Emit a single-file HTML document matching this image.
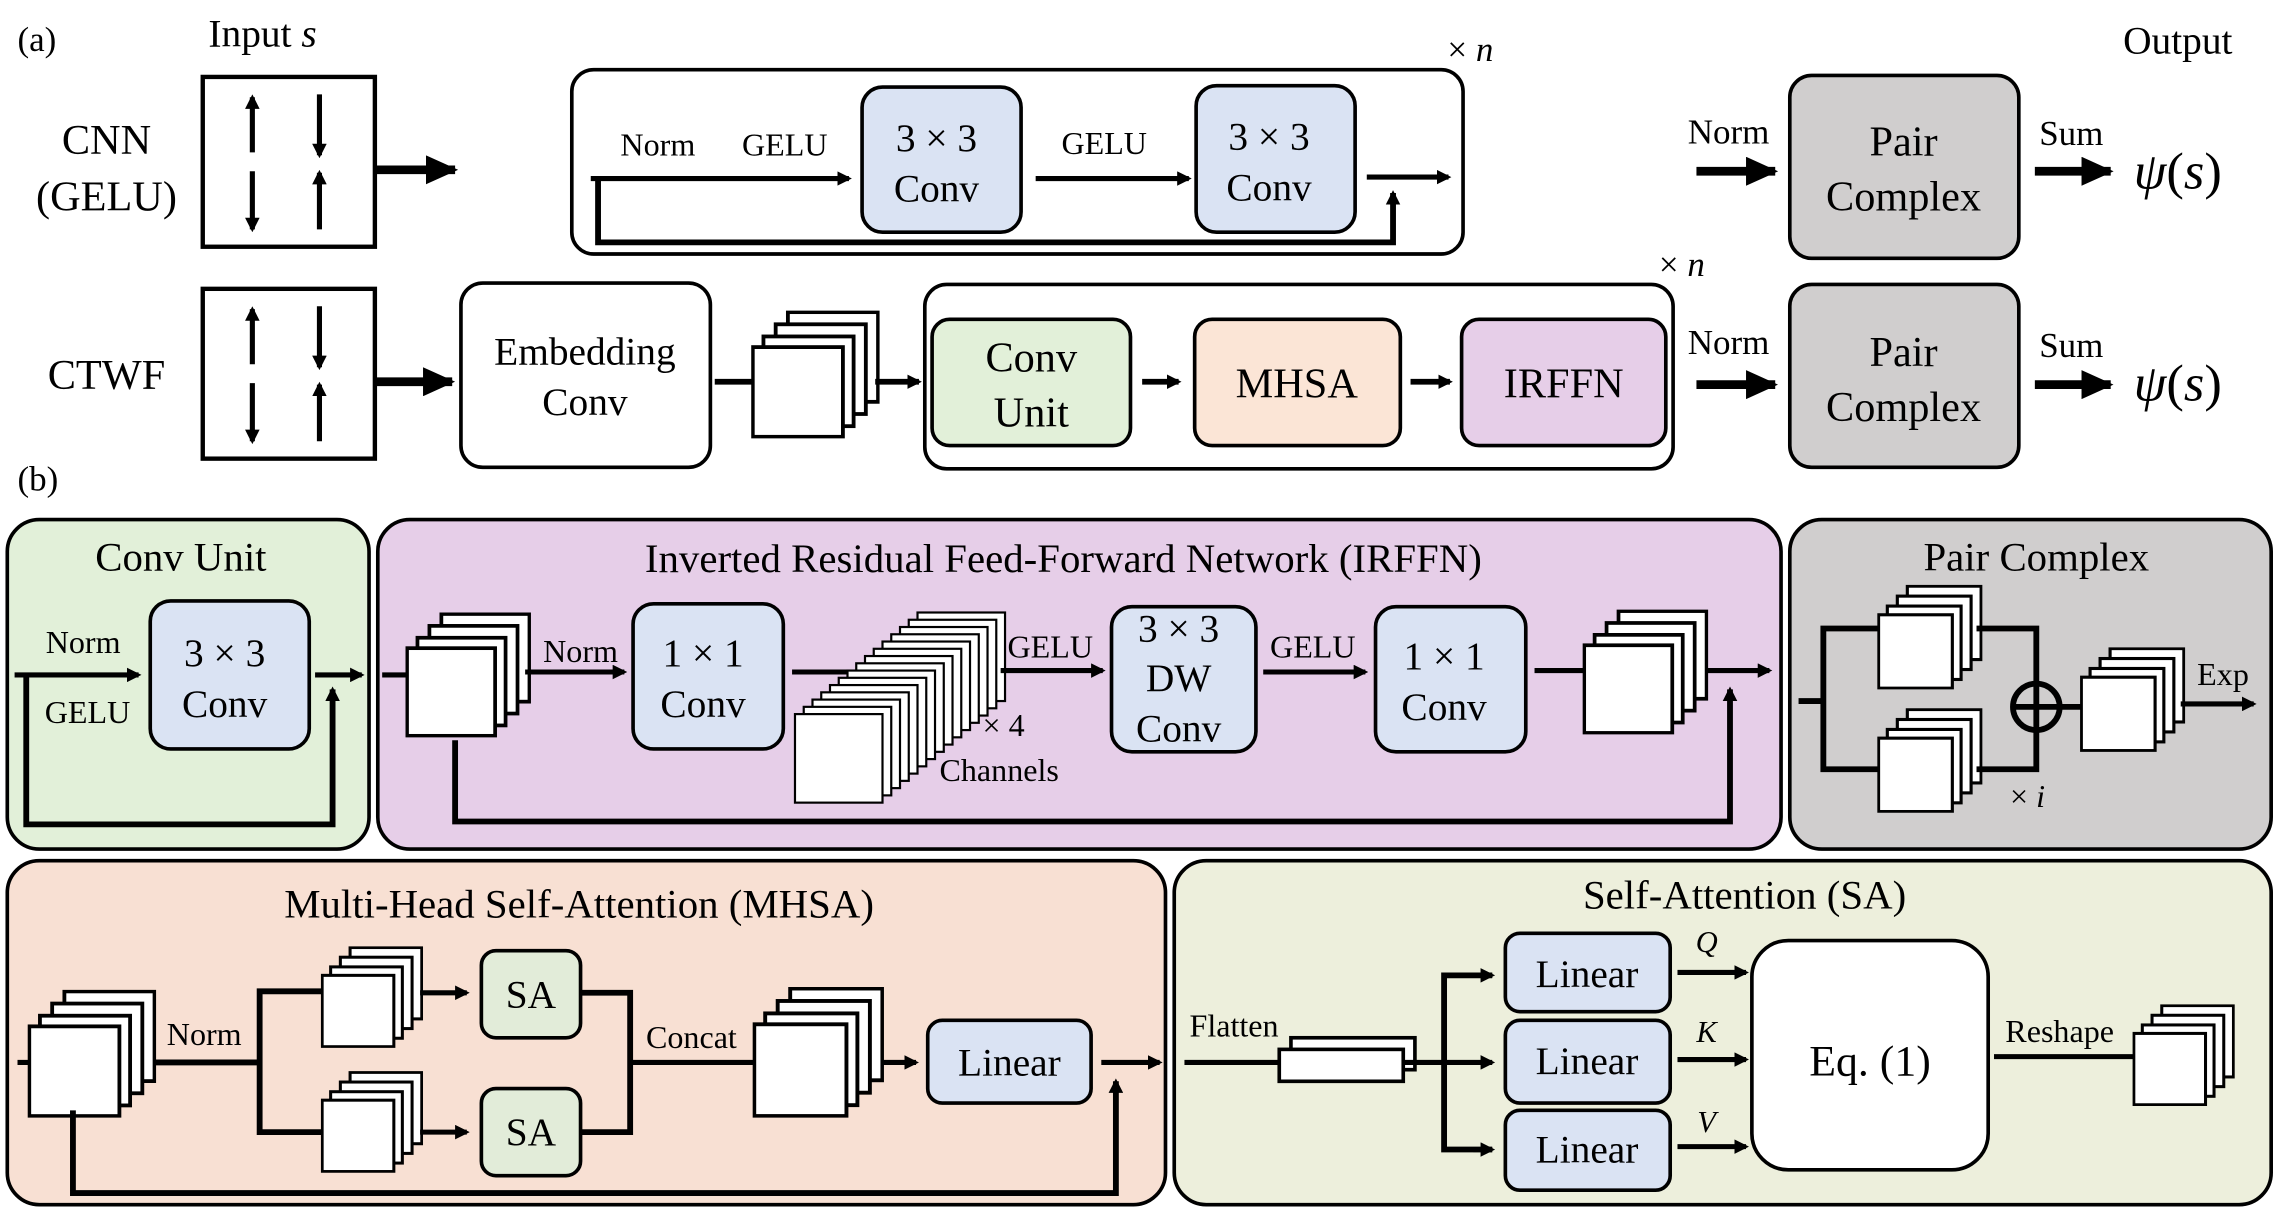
<!DOCTYPE html>
<html><head><meta charset="utf-8"><style>
html,body{margin:0;padding:0;background:#fff}
svg{display:block}
text{font-family:"Liberation Serif","Times New Roman",serif;fill:#000}
</style></head><body>
<svg width="2277" height="1225" viewBox="0 0 1561 844" preserveAspectRatio="none" xmlns="http://www.w3.org/2000/svg">
<defs>
<marker id="a" markerWidth="10" markerHeight="10" refX="8" refY="5" orient="auto" markerUnits="userSpaceOnUse"><path d="M0,0 L10,5 L0,10 z" fill="#000"/></marker>
<marker id="A" markerWidth="22" markerHeight="20" refX="20" refY="10" orient="auto" markerUnits="userSpaceOnUse"><path d="M0,0 L22,10 L0,20 z" fill="#000"/></marker>
<symbol id="stk" viewBox="0 0 84 84">
<rect x="24" y="1" width="59" height="59" fill="#fff" stroke="#000" stroke-width="2.5"/>
<rect x="16" y="9" width="59" height="59" fill="#fff" stroke="#000" stroke-width="2.5"/>
<rect x="8" y="17" width="59" height="59" fill="#fff" stroke="#000" stroke-width="2.5"/>
<rect x="1" y="24" width="59" height="59" fill="#fff" stroke="#000" stroke-width="2.5"/>
</symbol>
<g id="spins">
<rect x="0" y="0" width="118" height="117" fill="#fff" stroke="#000" stroke-width="3"/>
<line x1="34" y1="52" x2="34" y2="14" stroke="#000" stroke-width="3.5" marker-end="url(#a)"/>
<line x1="80" y1="12" x2="80" y2="54" stroke="#000" stroke-width="3.5" marker-end="url(#a)"/>
<line x1="34" y1="65" x2="34" y2="105" stroke="#000" stroke-width="3.5" marker-end="url(#a)"/>
<line x1="80" y1="105" x2="80" y2="66" stroke="#000" stroke-width="3.5" marker-end="url(#a)"/>
</g>
</defs>
<g stroke="#000" fill="none">
<use href="#spins" x="139" y="53"/>
<use href="#spins" x="139" y="199"/>
<line x1="257" y1="117" x2="312" y2="117" stroke-width="6" marker-end="url(#A)"/>
<rect x="392" y="48" width="611" height="127" rx="15" fill="#fff" stroke-width="2.5"/>
<line x1="405" y1="123" x2="582" y2="123" stroke-width="3.5" marker-end="url(#a)"/>
<rect x="591" y="60" width="109" height="100" rx="14" fill="#dae3f3" stroke-width="2.5"/>
<line x1="710" y1="123" x2="815" y2="123" stroke-width="3.5" marker-end="url(#a)"/>
<rect x="820" y="59" width="109" height="101" rx="14" fill="#dae3f3" stroke-width="2.5"/>
<line x1="937" y1="122" x2="993" y2="122" stroke-width="3.5" marker-end="url(#a)"/>
<polyline points="410,123 410,167 955,167 955,133" stroke-width="4" marker-end="url(#a)"/>
<line x1="1163" y1="118" x2="1217" y2="118" stroke-width="6" marker-end="url(#A)"/>
<rect x="1227" y="52" width="157" height="126" rx="15" fill="#d0cece" stroke-width="2.5"/>
<line x1="1395" y1="118" x2="1447" y2="118" stroke-width="6" marker-end="url(#A)"/>

<line x1="257" y1="263" x2="310" y2="263" stroke-width="6" marker-end="url(#A)"/>
<rect x="316" y="195" width="171" height="127" rx="15" fill="#fff" stroke-width="2.5"/>
<line x1="490" y1="263" x2="520" y2="263" stroke-width="4"/>
<use href="#stk" x="515" y="214" width="88" height="88"/>
<line x1="600" y1="263" x2="630" y2="263" stroke-width="4" marker-end="url(#a)"/>
<rect x="634" y="196" width="513" height="127" rx="15" fill="#fff" stroke-width="2.5"/>
<rect x="639" y="220" width="136" height="87" rx="12" fill="#e2f0d9" stroke-width="2.5"/>
<line x1="783" y1="263" x2="808" y2="263" stroke-width="4" marker-end="url(#a)"/>
<rect x="819" y="220" width="141" height="87" rx="12" fill="#fbe5d6" stroke-width="2.5"/>
<line x1="967" y1="263" x2="994" y2="263" stroke-width="4" marker-end="url(#a)"/>
<rect x="1002" y="220" width="140" height="87" rx="12" fill="#e6cee8" stroke-width="2.5"/>
<line x1="1163" y1="265" x2="1217" y2="265" stroke-width="6" marker-end="url(#A)"/>
<rect x="1227" y="196" width="157" height="126" rx="15" fill="#d0cece" stroke-width="2.5"/>
<line x1="1395" y1="265" x2="1447" y2="265" stroke-width="6" marker-end="url(#A)"/>

<rect x="5" y="358" width="248" height="227" rx="22" fill="#e2f0d9" stroke-width="2.5"/>
<line x1="10" y1="465" x2="95" y2="465" stroke-width="3.5" marker-end="url(#a)"/>
<rect x="103" y="414" width="109" height="102" rx="14" fill="#dae3f3" stroke-width="2.5"/>
<line x1="216" y1="465" x2="248" y2="465" stroke-width="3.5" marker-end="url(#a)"/>
<polyline points="18,465 18,568 228,568 228,475" stroke-width="4" marker-end="url(#a)"/>

<rect x="259" y="358" width="962" height="227" rx="22" fill="#e6cee8" stroke-width="2.5"/>
<line x1="262" y1="465" x2="282" y2="465" stroke-width="3.5"/>
<use href="#stk" x="278" y="422" width="86" height="86"/>
<line x1="360" y1="463" x2="428" y2="463" stroke-width="3.5" marker-end="url(#a)"/>
<rect x="434" y="416" width="103" height="100" rx="14" fill="#dae3f3" stroke-width="2.5"/>
<line x1="543" y1="463" x2="620" y2="463" stroke-width="3.5"/>
<g fill="#fff" stroke-width="1.5">
<rect x="629" y="422" width="60" height="61"/><rect x="623" y="427" width="60" height="61"/><rect x="617" y="432" width="60" height="61"/><rect x="611" y="437" width="60" height="61"/><rect x="605" y="442" width="60" height="61"/><rect x="599" y="447" width="60" height="61"/><rect x="593" y="452" width="60" height="61"/><rect x="587" y="457" width="60" height="61"/><rect x="581" y="462" width="60" height="61"/><rect x="575" y="467" width="60" height="61"/><rect x="569" y="472" width="60" height="61"/><rect x="563" y="477" width="60" height="61"/><rect x="557" y="482" width="60" height="61"/><rect x="551" y="487" width="60" height="61"/><rect x="545" y="492" width="60" height="61"/>
</g>
<line x1="686" y1="462" x2="756" y2="462" stroke-width="3.5" marker-end="url(#a)"/>
<rect x="762" y="418" width="99" height="100" rx="14" fill="#dae3f3" stroke-width="2.5"/>
<line x1="866" y1="463" x2="936" y2="463" stroke-width="3.5" marker-end="url(#a)"/>
<rect x="943" y="418" width="103" height="100" rx="14" fill="#dae3f3" stroke-width="2.5"/>
<line x1="1052" y1="462" x2="1090" y2="462" stroke-width="3.5"/>
<use href="#stk" x="1085" y="420" width="86" height="86"/>
<line x1="1170" y1="462" x2="1213" y2="462" stroke-width="3.5" marker-end="url(#a)"/>
<polyline points="312,510 312,566 1186,566 1186,475" stroke-width="4" marker-end="url(#a)"/>

<rect x="1227" y="358" width="330" height="227" rx="22" fill="#d0cece" stroke-width="2.5"/>
<polyline points="1233,483 1250,483" stroke-width="4"/>
<polyline points="1290,433 1250,433 1250,530 1290,530" stroke-width="4"/>
<use href="#stk" x="1287" y="403" width="72" height="72"/>
<use href="#stk" x="1287" y="488" width="72" height="72"/>
<polyline points="1355,433 1396,433 1396,471" stroke-width="4"/>
<polyline points="1355,530 1396,530 1396,503" stroke-width="4"/>
<circle cx="1396" cy="487" r="16" stroke-width="4"/>
<line x1="1380" y1="487" x2="1412" y2="487" stroke-width="4"/>
<line x1="1396" y1="471" x2="1396" y2="503" stroke-width="4"/>
<line x1="1412" y1="487" x2="1430" y2="487" stroke-width="4"/>
<use href="#stk" x="1426" y="446" width="72" height="72"/>
<line x1="1495" y1="485" x2="1545" y2="485" stroke-width="3.5" marker-end="url(#a)"/>

<rect x="5" y="593" width="794" height="237" rx="22" fill="#f8e0d3" stroke-width="2.5"/>
<line x1="12" y1="732" x2="24" y2="732" stroke-width="3.5"/>
<use href="#stk" x="19" y="682" width="88" height="88"/>
<polyline points="105,732 178,732" stroke-width="4"/>
<polyline points="225,683 178,683 178,780 225,780" stroke-width="4"/>
<use href="#stk" x="220" y="652" width="70" height="70"/>
<use href="#stk" x="220" y="738" width="70" height="70"/>
<line x1="288" y1="684" x2="320" y2="684" stroke-width="3.5" marker-end="url(#a)"/>
<line x1="288" y1="780" x2="320" y2="780" stroke-width="3.5" marker-end="url(#a)"/>
<rect x="330" y="655" width="68" height="60" rx="10" fill="#e2ecd9" stroke-width="2.5"/>
<rect x="330" y="750" width="68" height="60" rx="10" fill="#e2ecd9" stroke-width="2.5"/>
<polyline points="398,684 432,684 432,780 398,780" stroke-width="4"/>
<line x1="432" y1="732" x2="522" y2="732" stroke-width="3.5"/>
<use href="#stk" x="516" y="680" width="90" height="90"/>
<line x1="605" y1="732" x2="628" y2="732" stroke-width="3.5" marker-end="url(#a)"/>
<rect x="636" y="703" width="112" height="57" rx="10" fill="#dae3f3" stroke-width="2.5"/>
<line x1="755" y1="732" x2="795" y2="732" stroke-width="3.5" marker-end="url(#a)"/>
<polyline points="50,765 50,822 765,822 765,745" stroke-width="4" marker-end="url(#a)"/>

<rect x="805" y="593" width="752" height="237" rx="22" fill="#edefdc" stroke-width="2.5"/>
<line x1="812" y1="732" x2="880" y2="732" stroke-width="3.5"/>
<rect x="885" y="715" width="85" height="22" fill="#fff" stroke-width="2.5"/>
<rect x="877" y="723" width="85" height="22" fill="#fff" stroke-width="2.5"/>
<line x1="962" y1="732" x2="1023" y2="732" stroke-width="3.5" marker-end="url(#a)"/>
<polyline points="1023,672 990,672 990,792 1023,792" stroke-width="4"/>
<line x1="1010" y1="672" x2="1023" y2="672" stroke-width="3.5" marker-end="url(#a)"/>
<line x1="1010" y1="792" x2="1023" y2="792" stroke-width="3.5" marker-end="url(#a)"/>
<rect x="1032" y="643" width="113" height="54" rx="10" fill="#dae3f3" stroke-width="2.5"/>
<rect x="1032" y="703" width="113" height="57" rx="10" fill="#dae3f3" stroke-width="2.5"/>
<rect x="1032" y="765" width="113" height="55" rx="10" fill="#dae3f3" stroke-width="2.5"/>
<line x1="1150" y1="670" x2="1197" y2="670" stroke-width="3.5" marker-end="url(#a)"/>
<line x1="1150" y1="730" x2="1197" y2="730" stroke-width="3.5" marker-end="url(#a)"/>
<line x1="1150" y1="790" x2="1197" y2="790" stroke-width="3.5" marker-end="url(#a)"/>
<rect x="1201" y="648" width="162" height="158" rx="25" fill="#fff" stroke-width="2.5"/>
<line x1="1367" y1="728" x2="1468" y2="728" stroke-width="3.5"/>
<use href="#stk" x="1462" y="692" width="70" height="70"/>
</g>

<g font-size="26" text-anchor="middle" font-family="Liberation Serif, serif">
<text x="12" y="35" text-anchor="start" font-size="24">(a)</text>
<text x="180" y="32" font-size="27">Input <tspan font-style="italic">s</tspan></text>
<text x="1493" y="37" font-size="27">Output</text>
<text x="73" y="106" font-size="29">CNN</text>
<text x="73" y="145" font-size="29">(GELU)</text>
<text x="73" y="268" font-size="29">CTWF</text>
<text x="1008" y="42" font-size="24">× <tspan font-style="italic">n</tspan></text>
<text x="1153" y="190" font-size="24">× <tspan font-style="italic">n</tspan></text>
<text x="451" y="107" font-size="22">Norm</text>
<text x="538" y="107" font-size="22">GELU</text>
<text x="757" y="106" font-size="22">GELU</text>
<text x="642" y="104" font-size="27">3 × 3</text>
<text x="642" y="139" font-size="27">Conv</text>
<text x="870" y="103" font-size="27">3 × 3</text>
<text x="870" y="138" font-size="27">Conv</text>
<text x="1185" y="99" font-size="24">Norm</text>
<text x="1420" y="100" font-size="24">Sum</text>
<text x="1305" y="107" font-size="29">Pair</text>
<text x="1305" y="145" font-size="29">Complex</text>
<text x="1493" y="130" font-size="36" font-style="italic">ψ<tspan font-style="normal">(</tspan>s<tspan font-style="normal">)</tspan></text>
<text x="401" y="251" font-size="27">Embedding</text>
<text x="401" y="286" font-size="27">Conv</text>
<text x="707" y="256" font-size="29">Conv</text>
<text x="707" y="294" font-size="29">Unit</text>
<text x="889" y="274" font-size="29">MHSA</text>
<text x="1072" y="274" font-size="29">IRFFN</text>
<text x="1185" y="244" font-size="24">Norm</text>
<text x="1420" y="246" font-size="24">Sum</text>
<text x="1305" y="252" font-size="29">Pair</text>
<text x="1305" y="290" font-size="29">Complex</text>
<text x="1493" y="276" font-size="36" font-style="italic">ψ<tspan font-style="normal">(</tspan>s<tspan font-style="normal">)</tspan></text>

<text x="12" y="338" text-anchor="start" font-size="24">(b)</text>
<text x="124" y="393" font-size="28">Conv Unit</text>
<text x="57" y="450" font-size="22">Norm</text>
<text x="60" y="498" font-size="22">GELU</text>
<text x="154" y="459" font-size="27">3 × 3</text>
<text x="154" y="494" font-size="27">Conv</text>
<text x="729" y="394" font-size="28">Inverted Residual Feed-Forward Network (IRFFN)</text>
<text x="398" y="456" font-size="22">Norm</text>
<text x="482" y="459" font-size="27">1 × 1</text>
<text x="482" y="494" font-size="27">Conv</text>
<text x="720" y="453" font-size="22">GELU</text>
<text x="688" y="507" font-size="22">× 4</text>
<text x="685" y="538" font-size="22">Channels</text>
<text x="808" y="442" font-size="27">3 × 3</text>
<text x="808" y="476" font-size="27">DW</text>
<text x="808" y="511" font-size="27">Conv</text>
<text x="900" y="453" font-size="22">GELU</text>
<text x="990" y="461" font-size="27">1 × 1</text>
<text x="990" y="496" font-size="27">Conv</text>
<text x="1396" y="393" font-size="28">Pair Complex</text>
<text x="1524" y="472" font-size="22">Exp</text>
<text x="1390" y="556" font-size="22">× <tspan font-style="italic">i</tspan></text>
<text x="397" y="632" font-size="28">Multi-Head Self-Attention (MHSA)</text>
<text x="140" y="720" font-size="22">Norm</text>
<text x="364" y="694" font-size="27">SA</text>
<text x="364" y="789" font-size="27">SA</text>
<text x="474" y="722" font-size="22">Concat</text>
<text x="692" y="741" font-size="27">Linear</text>
<text x="1196" y="626" font-size="28">Self-Attention (SA)</text>
<text x="846" y="714" font-size="22">Flatten</text>
<text x="1088" y="680" font-size="27">Linear</text>
<text x="1088" y="740" font-size="27">Linear</text>
<text x="1088" y="801" font-size="27">Linear</text>
<text x="1170" y="656" font-size="21" font-style="italic">Q</text>
<text x="1170" y="718" font-size="21" font-style="italic">K</text>
<text x="1170" y="780" font-size="21" font-style="italic">V</text>
<text x="1282" y="741" font-size="30">Eq. (1)</text>
<text x="1412" y="718" font-size="22">Reshape</text>
</g>
</svg>
</body></html>
